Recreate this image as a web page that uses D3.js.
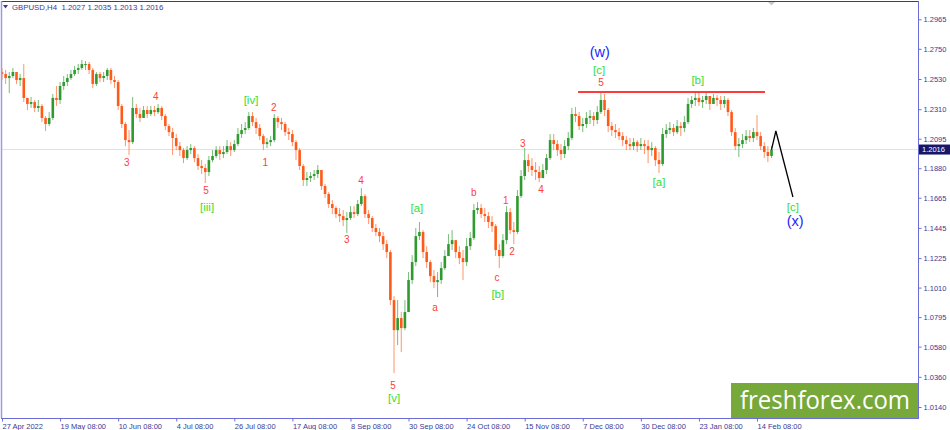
<!DOCTYPE html>
<html>
<head>
<meta charset="utf-8">
<script src="https://cdn.jsdelivr.net/npm/d3@7"></script>
<style>
  body { margin: 0; background: #fff; }
  svg { display: block; font-family: "Liberation Sans", Arial, sans-serif; }
</style>
</head>
<body>
<div id="chart"></div>
<script>
// GBPUSD, one candle per trading day
const firstOpen = 1.2580;
const closes = [
  1.2566,1.2537,1.2552,1.2581,1.2523,1.2537,1.2392,1.2348,1.2362,1.2319,
  1.2333,1.2246,1.2202,1.2246,1.2392,1.2377,1.2479,1.2508,1.2537,1.2566,
  1.2596,1.2610,1.2639,1.2639,1.2596,1.2494,1.2566,1.2537,1.2552,1.2596,
  1.2523,1.2508,1.2333,1.2202,1.2085,1.2070,1.2319,1.2275,1.2246,1.2304,
  1.2275,1.2304,1.2289,1.2319,1.2260,1.2187,1.2143,1.2100,1.2041,1.2012,
  1.1954,1.2012,1.2027,1.1954,1.1896,1.1881,1.1852,1.1939,1.1969,1.2012,
  1.1983,1.1998,1.2041,1.2012,1.2056,1.2129,1.2158,1.2173,1.2260,1.2216,
  1.2173,1.2114,1.2056,1.2070,1.2085,1.2246,1.2216,1.2202,1.2143,1.2129,
  1.2070,1.2012,1.1896,1.1794,1.1808,1.1823,1.1838,1.1867,1.1750,1.1692,
  1.1619,1.1590,1.1546,1.1531,1.1502,1.1517,1.1560,1.1546,1.1619,1.1677,
  1.1546,1.1517,1.1444,1.1415,1.1385,1.1327,1.1269,1.0919,1.0700,1.0788,
  1.0715,1.0832,1.1065,1.1196,1.1385,1.1415,1.1269,1.1196,1.1094,1.1050,
  1.1065,1.1152,1.1240,1.1327,1.1356,1.1269,1.1225,1.1196,1.1312,1.1371,
  1.1575,1.1590,1.1546,1.1531,1.1488,1.1458,1.1284,1.1240,1.1356,1.1560,
  1.1429,1.1415,1.1677,1.1823,1.1939,1.1896,1.1867,1.1852,1.1808,1.1867,
  1.1954,1.2085,1.2056,1.2012,1.1983,1.2041,1.2100,1.2275,1.2260,1.2187,
  1.2202,1.2246,1.2260,1.2231,1.2289,1.2377,1.2304,1.2187,1.2158,1.2143,
  1.2114,1.2085,1.2056,1.2041,1.2070,1.2041,1.2056,1.2041,1.2012,1.2027,
  1.1939,1.1910,1.2129,1.2158,1.2173,1.2143,1.2187,1.2173,1.2216,1.2348,
  1.2377,1.2392,1.2362,1.2377,1.2406,1.2348,1.2392,1.2377,1.2348,1.2377,
  1.2289,1.2143,1.2041,1.2056,1.2085,1.2114,1.2100,1.2143,1.2114,1.2041,
  1.1998,1.1969,1.2016
];
const highs = [
  1.2610,1.2596,1.2581,1.2610,1.2581,1.2566,1.2639,1.2392,1.2399,1.2377,
  1.2377,1.2348,1.2260,1.2289,1.2421,1.2479,1.2508,1.2552,1.2566,1.2596,
  1.2625,1.2639,1.2668,1.2661,1.2654,1.2610,1.2581,1.2581,1.2581,1.2610,
  1.2610,1.2552,1.2523,1.2348,1.2216,1.2158,1.2399,1.2348,1.2319,1.2333,
  1.2333,1.2333,1.2333,1.2348,1.2333,1.2275,1.2202,1.2173,1.2129,1.2070,
  1.2027,1.2041,1.2056,1.2041,1.1983,1.1939,1.1910,1.1969,1.2012,1.2041,
  1.2041,1.2041,1.2085,1.2070,1.2085,1.2173,1.2202,1.2216,1.2289,1.2289,
  1.2246,1.2202,1.2129,1.2100,1.2114,1.2275,1.2260,1.2246,1.2216,1.2173,
  1.2158,1.2085,1.2027,1.1910,1.1852,1.1852,1.1867,1.1903,1.1867,1.1765,
  1.1706,1.1648,1.1604,1.1590,1.1575,1.1560,1.1604,1.1604,1.1648,1.1735,
  1.1692,1.1575,1.1531,1.1473,1.1444,1.1415,1.1356,1.1284,1.0948,1.0919,
  1.0832,1.0919,1.1123,1.1247,1.1444,1.1488,1.1429,1.1312,1.1211,1.1138,
  1.1123,1.1196,1.1284,1.1400,1.1429,1.1356,1.1312,1.1284,1.1371,1.1415,
  1.1619,1.1633,1.1619,1.1590,1.1560,1.1531,1.1473,1.1327,1.1400,1.1604,
  1.1590,1.1488,1.1721,1.1867,1.2027,1.1983,1.1954,1.1924,1.1896,1.1910,
  1.1983,1.2129,1.2129,1.2085,1.2056,1.2085,1.2143,1.2319,1.2326,1.2289,
  1.2246,1.2289,1.2304,1.2289,1.2333,1.2435,1.2421,1.2319,1.2216,1.2202,
  1.2173,1.2143,1.2114,1.2100,1.2100,1.2085,1.2100,1.2085,1.2085,1.2070,
  1.2041,1.1998,1.2173,1.2202,1.2216,1.2202,1.2231,1.2216,1.2260,1.2392,
  1.2406,1.2428,1.2435,1.2406,1.2428,1.2406,1.2421,1.2413,1.2406,1.2406,
  1.2392,1.2304,1.2173,1.2100,1.2129,1.2158,1.2158,1.2173,1.2267,1.2143,
  1.2070,1.2041,1.2041
];
const lows = [
  1.2523,1.2494,1.2428,1.2537,1.2494,1.2479,1.2362,1.2304,1.2319,1.2289,
  1.2289,1.2216,1.2151,1.2187,1.2231,1.2333,1.2348,1.2450,1.2479,1.2523,
  1.2552,1.2566,1.2596,1.2596,1.2566,1.2465,1.2479,1.2508,1.2508,1.2523,
  1.2494,1.2465,1.2304,1.2173,1.2041,1.1976,1.2056,1.2246,1.2216,1.2246,
  1.2246,1.2260,1.2260,1.2275,1.2231,1.2158,1.2114,1.1976,1.2012,1.1969,
  1.1917,1.1939,1.1983,1.1924,1.1867,1.1838,1.1772,1.1823,1.1924,1.1954,
  1.1939,1.1954,1.1983,1.1969,1.1998,1.2041,1.2100,1.2129,1.2158,1.2187,
  1.2129,1.2085,1.2012,1.2027,1.2041,1.2070,1.2173,1.2158,1.2114,1.2085,
  1.2041,1.1939,1.1867,1.1750,1.1750,1.1779,1.1794,1.1808,1.1721,1.1663,
  1.1590,1.1546,1.1517,1.1488,1.1458,1.1408,1.1502,1.1517,1.1531,1.1604,
  1.1517,1.1473,1.1415,1.1385,1.1341,1.1284,1.1225,1.0883,1.0387,1.0591,
  1.0540,1.0700,1.0832,1.1036,1.1167,1.1356,1.1225,1.1152,1.1050,1.1006,
  1.0941,1.1036,1.1138,1.1240,1.1284,1.1225,1.1181,1.1065,1.1167,1.1284,
  1.1356,1.1546,1.1517,1.1488,1.1444,1.1415,1.1240,1.1152,1.1225,1.1327,
  1.1400,1.1327,1.1400,1.1663,1.1794,1.1852,1.1823,1.1794,1.1779,1.1808,
  1.1838,1.1939,1.2012,1.1969,1.1939,1.1954,1.2012,1.2085,1.2216,1.2158,
  1.2143,1.2173,1.2202,1.2187,1.2202,1.2275,1.2260,1.2143,1.2114,1.2100,
  1.2085,1.2041,1.2012,1.2012,1.2012,1.1998,1.2012,1.1983,1.1917,1.1969,
  1.1896,1.1845,1.1896,1.2100,1.2129,1.2114,1.2129,1.2114,1.2143,1.2202,
  1.2319,1.2333,1.2333,1.2319,1.2348,1.2304,1.2348,1.2333,1.2304,1.2319,
  1.2260,1.2114,1.2012,1.1961,1.2027,1.2056,1.2070,1.2070,1.2085,1.2012,
  1.1954,1.1924,1.1954
];

// axis labels
const dateLabels = ["27 Apr 2022", "19 May 08:00", "10 Jun 08:00", "4 Jul 08:00", "26 Jul 08:00",
  "17 Aug 08:00", "8 Sep 08:00", "30 Sep 08:00", "24 Oct 08:00", "15 Nov 08:00",
  "7 Dec 08:00", "30 Dec 08:00", "23 Jan 08:00", "14 Feb 08:00"];
const barsPerLabel = 16;
const priceTicks = [1.2965, 1.2750, 1.2530, 1.2310, 1.2095, 1.1880, 1.1665, 1.1445,
  1.1225, 1.1010, 1.0795, 1.0580, 1.0360, 1.0140];
const lastPrice = 1.2016;
const headerText = "GBPUSD,H4  1.2027 1.2035 1.2013 1.2016";

// elliott wave marks: [bar, price, text, kind]
const waveLabels = [
  [34.4, 1.1924, "3", "minor"], [42.4, 1.2399, "4", "minor"], [56.2, 1.1721, "5", "minor"],
  [56.5, 1.1597, "[iii]", "minute"], [68.6, 1.2377, "[iv]", "minute"],
  [72.5, 1.1924, "1", "minor"], [74.9, 1.2319, "2", "minor"],
  [95.0, 1.1363, "3", "minor"], [98.9, 1.1794, "4", "minor"],
  [107.7, 1.0299, "5", "minor"], [108.0, 1.0205, "[v]", "minute"],
  [114.3, 1.1590, "[a]", "minute"], [119.3, 1.0868, "a", "minor"],
  [130.0, 1.1706, "b", "minor"], [136.4, 1.1087, "c", "minor"], [136.6, 1.0963, "[b]", "minute"],
  [138.8, 1.1648, "1", "minor"], [140.5, 1.1276, "2", "minor"],
  [143.5, 1.2063, "3", "minor"], [148.5, 1.1728, "4", "minor"],
  [165.0, 1.2501, "5", "minor"], [164.5, 1.2596, "[c]", "minute"], [164.7, 1.2727, "(w)", "major"],
  [181.0, 1.1779, "[a]", "minute"], [191.7, 1.2523, "[b]", "minute"],
  [217.9, 1.1597, "[c]", "minute"], [218.5, 1.1495, "(x)", "major"]
];
const resistancePrice = 1.2435;
const resistanceBars = [158.7, 210.2];
const forecastBars = [212, 213.2, 217.9];
const forecastPrices = [1.2016, 1.2151, 1.1670];

const W = 950, H = 430;
const plot = { left: 1, top: 1, right: 918, bottom: 418 };
const upColor = "#2f9a2f", downColor = "#ff5a1a";
const axisColor = "#6c6cd6", textColor = "#3a3a96";
const waveColors = { minor: "#ff3d3d", minute: "#36de36", major: "#2323ff" };
const waveSizes = { minor: 10, minute: 11.5, major: 14.5 };

const x = d3.scaleLinear().domain([0, 13 * barsPerLabel]).range([2, 757]);
const y = d3.scaleLinear().domain([1.0140, 1.2965]).range([407, 19.3]);

const svg = d3.select("#chart").append("svg")
  .attr("width", W)
  .attr("height", H);

svg.append("clipPath").attr("id", "plotclip")
  .append("rect")
  .attr("x", plot.left).attr("y", plot.top)
  .attr("width", plot.right - plot.left).attr("height", plot.bottom - plot.top);

// last price line
svg.append("line")
  .attr("x1", plot.left).attr("x2", plot.right)
  .attr("y1", y(lastPrice)).attr("y2", y(lastPrice))
  .attr("stroke", "#e2e2e2");

// candles
const candles = closes.map((c, i) => ({
  i: i, o: i ? closes[i - 1] : firstOpen, h: highs[i], l: lows[i], c: c
}));
const cg = svg.append("g").attr("clip-path", "url(#plotclip)");

cg.selectAll("line.wick")
  .data(candles)
  .join("line")
  .attr("class", "wick")
  .attr("x1", d => x(d.i)).attr("x2", d => x(d.i))
  .attr("y1", d => y(Math.max(d.h, d.o, d.c)))
  .attr("y2", d => y(Math.min(d.l, d.o, d.c)))
  .attr("stroke", d => d.c >= d.o ? upColor : downColor)
  .attr("stroke-opacity", 0.65)
  .attr("stroke-width", 1);

cg.selectAll("rect.body")
  .data(candles)
  .join("rect")
  .attr("class", "body")
  .attr("x", d => x(d.i) - 1.3)
  .attr("width", 2.6)
  .attr("y", d => y(Math.max(d.o, d.c)))
  .attr("height", d => Math.max(1, Math.abs(y(d.o) - y(d.c))))
  .attr("fill", d => d.c >= d.o ? upColor : downColor);

// resistance level
cg.append("line")
  .attr("x1", x(resistanceBars[0])).attr("x2", x(resistanceBars[1]))
  .attr("y1", y(resistancePrice)).attr("y2", y(resistancePrice))
  .attr("stroke", "#ff3b3b")
  .attr("stroke-width", 2);

// projected path
cg.append("path")
  .datum(forecastBars.map((b, k) => [b, forecastPrices[k]]))
  .attr("d", d3.line().x(d => x(d[0])).y(d => y(d[1])))
  .attr("fill", "none")
  .attr("stroke", "#000")
  .attr("stroke-width", 1.3);

// wave labels
cg.selectAll("text.wave")
  .data(waveLabels)
  .join("text")
  .attr("class", "wave")
  .attr("x", d => x(d[0]))
  .attr("y", d => y(d[1]))
  .attr("text-anchor", "middle")
  .attr("dominant-baseline", "central")
  .attr("font-size", d => waveSizes[d[3]])
  .attr("fill", d => waveColors[d[3]])
  .text(d => d[2]);

// watermark
svg.append("rect")
  .attr("x", 731).attr("y", 383)
  .attr("width", plot.right - 731).attr("height", plot.bottom - 383)
  .attr("fill", "#77a83a");
svg.append("text")
  .attr("x", 740).attr("y", 409)
  .attr("font-family", "'Open Sans', 'Noto Sans', sans-serif")
  .attr("font-size", 26)
  .attr("textLength", 170)
  .attr("lengthAdjust", "spacingAndGlyphs")
  .attr("fill", "#fff")
  .text("freshforex.com");

// frame
svg.append("line").attr("x1", plot.left).attr("x2", plot.right)
  .attr("y1", plot.top + 0.5).attr("y2", plot.top + 0.5).attr("stroke", "#3a3a8a");
svg.append("line").attr("x1", plot.left + 0.5).attr("x2", plot.left + 0.5)
  .attr("y1", plot.top).attr("y2", plot.bottom).attr("stroke", "#9b9be4").attr("stroke-width", 1.5);
svg.append("line").attr("x1", plot.right + 0.5).attr("x2", plot.right + 0.5)
  .attr("y1", plot.top).attr("y2", plot.bottom).attr("stroke", axisColor);
svg.append("line").attr("x1", plot.left).attr("x2", plot.right + 1)
  .attr("y1", plot.bottom + 0.5).attr("y2", plot.bottom + 0.5).attr("stroke", axisColor);

// price axis
const yAxis = d3.axisRight(y)
  .tickValues(priceTicks)
  .tickFormat(d3.format(".4f"))
  .tickSize(3)
  .tickSizeOuter(0)
  .tickPadding(2);
const ya = svg.append("g")
  .attr("transform", `translate(${plot.right + 0.5},0)`)
  .call(yAxis);
ya.select(".domain").remove();
ya.selectAll("line").attr("stroke", axisColor);
ya.selectAll("text")
  .attr("font-family", "'Liberation Sans', Arial, sans-serif")
  .attr("font-size", 7.5)
  .attr("fill", textColor);

// date axis
const xAxis = d3.axisBottom(x)
  .tickValues(dateLabels.map((d, k) => k * barsPerLabel))
  .tickFormat((d, k) => dateLabels[k])
  .tickSize(3)
  .tickSizeOuter(0)
  .tickPadding(2);
const xa = svg.append("g")
  .attr("transform", `translate(0,${plot.bottom + 0.5})`)
  .call(xAxis);
xa.select(".domain").remove();
xa.selectAll("line").attr("stroke", axisColor);
xa.selectAll("text")
  .attr("text-anchor", "start")
  .attr("font-family", "'Liberation Sans', Arial, sans-serif")
  .attr("font-size", 7.5)
  .attr("fill", textColor);

// last price box
svg.append("rect")
  .attr("x", plot.right + 1).attr("y", y(lastPrice) - 5)
  .attr("width", W - plot.right - 1).attr("height", 10)
  .attr("fill", "#16166a");
svg.append("text")
  .attr("x", plot.right + 4).attr("y", y(lastPrice))
  .attr("dominant-baseline", "central")
  .attr("font-size", 7.5)
  .attr("fill", "#fff")
  .text(d3.format(".4f")(lastPrice));

// header
svg.append("path")
  .attr("d", "M3,5 L8,5 L5.5,8.5 Z")
  .attr("fill", textColor);
svg.append("text")
  .attr("x", 12).attr("y", 10)
  .attr("font-size", 7.8)
  .attr("fill", textColor)
  .attr("xml:space", "preserve")
  .text(headerText);

// shift marker at the last bar
svg.append("path")
  .attr("d", `M${x(closes.length - 1) - 3.5},2 L${x(closes.length - 1) + 3.5},2 L${x(closes.length - 1)},5.5 Z`)
  .attr("fill", "#c9c9c9");
</script>
</body>
</html>
